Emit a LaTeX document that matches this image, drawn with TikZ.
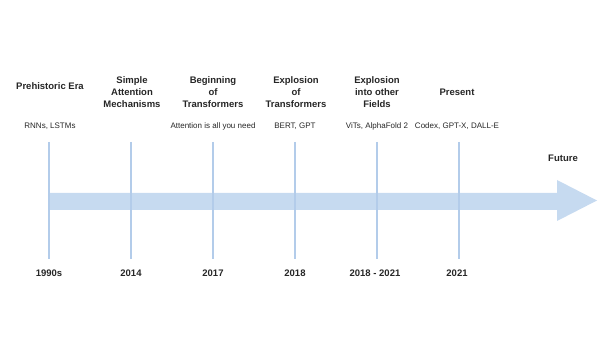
\documentclass[tikz,border=0pt]{standalone}
\usepackage{fontspec}
\setmainfont{Liberation Sans}
\usetikzlibrary{positioning}
\definecolor{arrowblue}{HTML}{C6DAF0}
\definecolor{tickblue}{HTML}{B3CCEA}
\definecolor{ink}{HTML}{262626}

\begin{document}
\begin{tikzpicture}[x=1pt, y=-1pt,
    era/.style={font=\fontsize{9.5}{11.7}\selectfont\bfseries, align=center, text=ink, inner sep=0pt},
    work/.style={font=\fontsize{8}{9.6}\selectfont, text=ink, inner sep=0pt},
    year/.style={font=\fontsize{9.5}{11}\selectfont\bfseries, text=ink, inner sep=0pt},
    tick/.style={draw=tickblue, line width=1.3pt}
]
\useasboundingbox (0,0) rectangle (600,358);

% Big arrow
\fill[arrowblue] (49,193) -- (557,193) -- (557,180) -- (597,200.5)
    -- (557,221) -- (557,210) -- (49,210) -- cycle;

% Tick end points
\coordinate (t1) at (49,142);   \coordinate (b1) at (49,259);
\coordinate (t2) at (131,142);  \coordinate (b2) at (131,259);
\coordinate (t3) at (213,142);  \coordinate (b3) at (213,259);
\coordinate (t4) at (295,142);  \coordinate (b4) at (295,259);
\coordinate (t5) at (377,142);  \coordinate (b5) at (377,259);
\coordinate (t6) at (459,142);  \coordinate (b6) at (459,259);

% Ticks
\draw[tick] (t1) -- (b1);
\draw[tick] (t2) -- (b2);
\draw[tick] (t3) -- (b3);
\draw[tick] (t4) -- (b4);
\draw[tick] (t5) -- (b5);
\draw[tick] (t6) -- (b6);

% Eras
\node[era] (prehist) at (50,86) {Prehistoric Era};
\node[era] (simple) at (132,92) {Simple\\Attention\\Mechanisms};
\node[era] (begin) at (213,92) {Beginning\\of\\Transformers};
\node[era] (explo) at (296,92) {Explosion\\of\\Transformers};
\node[era] (fields) at (377,92) {Explosion\\into other\\Fields};
\node[era] (present) at (457,92) {Present};
\node[era] (future) at (563,158) {Future};

% Works
\node[work] (rnn) at (50,126) {RNNs, LSTMs};
\node[work] (attn) at (213,126) {Attention is all you need};
\node[work] (bert) at (295,126) {BERT, GPT};
\node[work] (vit) at (377,126) {ViTs, AlphaFold 2};
\node[work] (codex) at (457,126) {Codex, GPT-X, DALL-E};

% Years
\node[year] (y1) at (49,273) {1990s};
\node[year] (y2) at (131,273) {2014};
\node[year] (y3) at (213,273) {2017};
\node[year] (y4) at (295,273) {2018};
\node[year] (y5) at (375,273) {2018 - 2021};
\node[year] (y6) at (457,273) {2021};

\end{tikzpicture}
\end{document}
